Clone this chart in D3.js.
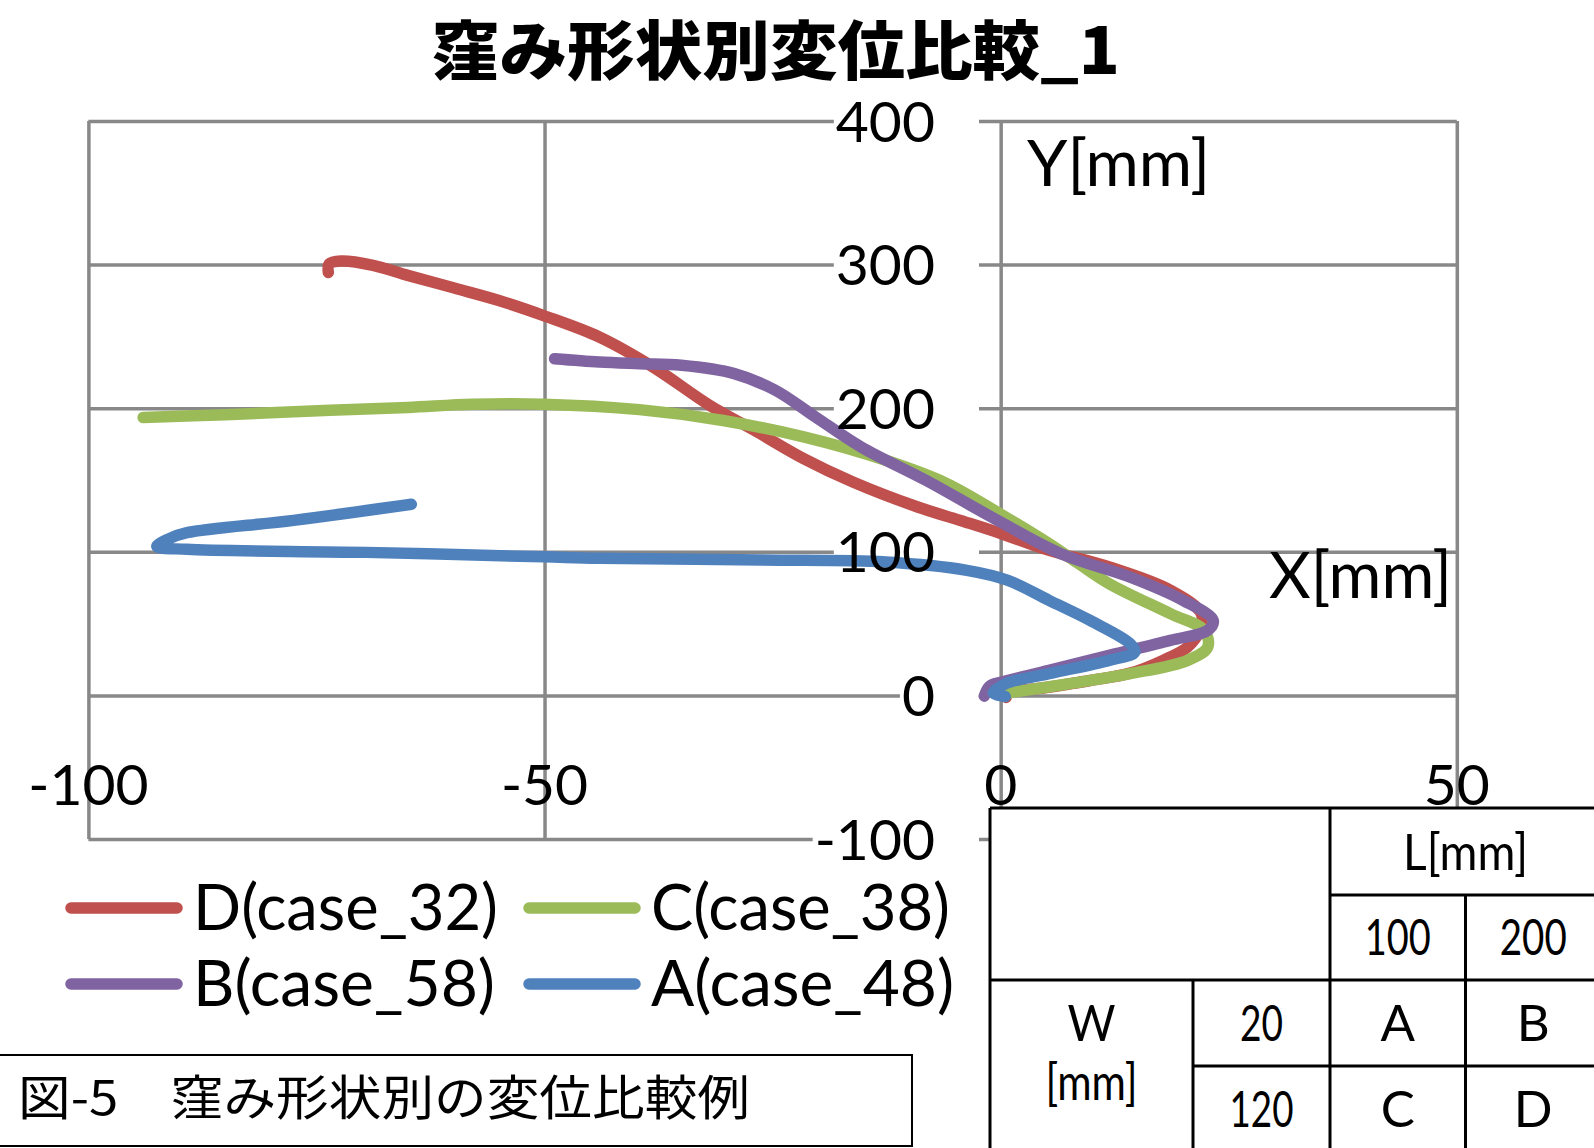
<!DOCTYPE html>
<html><head><meta charset="utf-8">
<script src="https://cdn.jsdelivr.net/npm/d3@7"></script>
<style>html,body{margin:0;padding:0;background:#fff}svg{display:block}</style>
</head><body>
<script>
// ---------- data ----------
const chartTitle = "窪み形状別変位比較_1";
const xTicks = [-100, -50, 0, 50];
const yTicks = [-100, 0, 100, 200, 300, 400];
const xAxisTitle = "X[mm]";
const yAxisTitle = "Y[mm]";
const seriesNames = ["D(case_32)", "C(case_38)", "B(case_58)", "A(case_48)"];
const seriesColors = ["#C0504D", "#9BBB59", "#8064A2", "#4F81BD"];

const seriesD = [[0.6,-1.4],[0.8,1.5],[5,5.5],[9.8,10.4],[14.2,15.5],[17.8,24.4],[20.5,33.7],[21.8,45],[22,56.9],[18.6,73.2],[11.9,89.4],[5.3,101],[0.1,112.6],[-4.5,122],[-9.1,131.2],[-16.2,148.6],[-21.6,164.9],[-27,184.6],[-31.9,202],[-38.1,228.7],[-44,249.6],[-50.1,264.5],[-55,275],[-59.8,283.5],[-65,292.5],[-68.8,299.5],[-72.3,302.5],[-73.6,300.5],[-73.7,294.5]];
const seriesC = [[0.5,1.5],[7.5,8.1],[14.2,15.1],[20.5,24.4],[22.7,33.7],[22.3,45.3],[18.6,56.9],[11.9,77.8],[8.5,92],[5.3,105.7],[-0.1,126.6],[-5.9,147.5],[-12.6,163.7],[-21.6,180],[-30.6,191.6],[-39.6,199],[-50.1,202.8],[-57.9,202.7],[-65,200.5],[-73.5,198.5],[-85,195.5],[-94,193.5]];
const seriesB = [[-1.8,-0.5],[-1.2,6.5],[0.1,9.3],[5.3,17.4],[11.9,27.9],[18.6,38.3],[22.7,45.3],[23.3,52.2],[20,66.2],[14.2,82.4],[6.6,98.7],[-1,124.2],[-8.2,149.8],[-15.3,173],[-20.3,193.9],[-24.7,212.5],[-29.2,224.1],[-35,229.9],[-39.6,231],[-44,232.2],[-48.9,234.5]];
const seriesA = [[0.5,-0.8],[-0.8,1.5],[0.5,8],[5.3,15.1],[11.9,24.4],[14.7,30.2],[14.2,36],[9.8,52.2],[5.3,66.2],[0.8,80.1],[-3.7,87.1],[-12.6,92.9],[-26.1,94.3],[-44,95.5],[-50.1,96.5],[-69.6,99.6],[-89.2,101.7],[-92.5,103.8],[-91.2,109],[-89.2,113.3],[-77.5,121.9],[-64.6,133.1]];

const captionText = "図-5　窪み形状別の変位比較例";
const tableHeaderL = "L[mm]";
const tableLValues = ["100", "200"];
const tableWLabel = ["W", "[mm]"];
const tableWValues = ["20", "120"];
const tableCells = [["A", "B"], ["C", "D"]];

// ---------- layout ----------
const W = 1594, H = 1148;
const svg = d3.select("body").append("svg").attr("width", W).attr("height", H)
  .style("font-family", "Lato, 'Noto Sans', sans-serif");

const x = d3.scaleLinear().domain([-100, 50]).range([88.4, 1456.8]);
const y = d3.scaleLinear().domain([-100, 400]).range([839, 121]);
const gridColor = "#888888";

// title
svg.append("text").attr("x", 776).attr("y", 74).attr("text-anchor", "middle")
  .attr("font-family", "'Noto Sans CJK JP', sans-serif").attr("font-weight", 900)
  .attr("font-size", 64).attr("textLength", 688).attr("lengthAdjust", "spacingAndGlyphs")
  .text(chartTitle);

// gridlines via d3 axes
const gx = svg.append("g").attr("transform", `translate(0,${y(-100)})`)
  .call(d3.axisBottom(x).tickValues(xTicks).tickSize(-(y(-100) - y(400))).tickFormat(""));
const gy = svg.append("g").attr("transform", `translate(${x(-100)},0)`)
  .call(d3.axisLeft(y).tickValues(yTicks).tickSize(-(x(50) - x(-100))).tickFormat(""));
[gx, gy].forEach(g => {
  g.select(".domain").remove();
  g.selectAll(".tick line").attr("stroke", gridColor).attr("stroke-width", 3.5);
});

// white boxes behind y labels (break the gridlines)
const yBoxes = svg.append("g");

// series
const line = d3.line().x(d => x(d[0])).y(d => y(d[1])).curve(d3.curveCatmullRom.alpha(0.5));
const allSeries = [seriesD, seriesC, seriesB, seriesA];
allSeries.forEach((s, i) => {
  svg.append("path").datum(s).attr("d", line).attr("fill", "none")
    .attr("stroke", seriesColors[i]).attr("stroke-width", 11.5)
    .attr("stroke-linecap", "round").attr("stroke-linejoin", "round");
});

// y labels
yTicks.forEach(v => {
  const t = svg.append("text").attr("x", 935).attr("y", y(v) + 20.5)
    .attr("text-anchor", "end").attr("font-size", 57).text(v);
  const bb = t.node().getBBox();
  yBoxes.append("rect").attr("x", bb.x - 2).attr("y", y(v) - 4)
    .attr("width", 979 - bb.x + 2).attr("height", 8).attr("fill", "#fff");
});

// x labels
xTicks.forEach(v => {
  svg.append("text").attr("x", x(v)).attr("y", 804.5).attr("text-anchor", "middle")
    .attr("font-size", 57).text(v);
});

// axis titles
svg.append("text").attr("x", 1269).attr("y", 598).attr("font-size", 64)
  .attr("textLength", 183).attr("lengthAdjust", "spacingAndGlyphs").text(xAxisTitle);
svg.append("text").attr("x", 1027).attr("y", 186).attr("font-size", 64)
  .attr("textLength", 183).attr("lengthAdjust", "spacingAndGlyphs").text(yAxisTitle);

// legend
const legPos = [[71, 908, 193, 305], [529, 908, 651, 299], [71, 984, 193, 302], [529, 984, 651, 303]];
seriesNames.forEach((n, i) => {
  const p = legPos[i];
  svg.append("line").attr("x1", p[0]).attr("x2", p[0] + 106).attr("y1", p[1]).attr("y2", p[1])
    .attr("stroke", seriesColors[i]).attr("stroke-width", 11.5).attr("stroke-linecap", "round");
  svg.append("text").attr("x", p[2]).attr("y", p[1] + 22).attr("font-size", 64)
    .attr("textLength", p[3]).attr("lengthAdjust", "spacingAndGlyphs").text(n);
});

// caption box
svg.append("rect").attr("x", -3).attr("y", 1055).attr("width", 915).attr("height", 91)
  .attr("fill", "#fff").attr("stroke", "#000").attr("stroke-width", 2);
svg.append("text").attr("x", 18).attr("y", 1115)
  .attr("font-family", "'Noto Sans CJK JP', sans-serif").attr("font-size", 48)
  .attr("textLength", 732).attr("lengthAdjust", "spacingAndGlyphs").text(captionText);

// table
const tb = svg.append("g");
const cx = [990, 1193, 1330, 1465.5, 1601];
const ry = [808, 895, 980, 1066, 1152];
tb.append("rect").attr("x", cx[0]).attr("y", ry[0]).attr("width", W - cx[0] + 10).attr("height", H - ry[0] + 10)
  .attr("fill", "#fff");
const tl = (x1, y1, x2, y2) => tb.append("line").attr("x1", x1).attr("y1", y1).attr("x2", x2).attr("y2", y2)
  .attr("stroke", "#000").attr("stroke-width", 3);
tl(cx[0], ry[0], W + 5, ry[0]);
tl(cx[2], ry[1], W + 5, ry[1]);
tl(cx[0], ry[2], W + 5, ry[2]);
tl(cx[1], ry[3], W + 5, ry[3]);
tl(cx[0], ry[0], cx[0], H + 5);
tl(cx[2], ry[0], cx[2], H + 5);
tl(cx[1], ry[2], cx[1], H + 5);
tl(cx[3], ry[1], cx[3], H + 5);
const tt = (tx, ty, s, w) => {
  const t = tb.append("text").attr("x", tx).attr("y", ty).attr("text-anchor", "middle")
    .attr("font-size", 51).text(s);
  if (w) t.attr("textLength", w).attr("lengthAdjust", "spacingAndGlyphs");
};
tt((cx[2] + cx[4]) / 2, 870, tableHeaderL, 125);
tt((cx[2] + cx[3]) / 2, 955, tableLValues[0], 66);
tt((cx[3] + cx[4]) / 2, 955, tableLValues[1], 67);
tt((cx[0] + cx[1]) / 2, 1041, tableWLabel[0], 48);
tt((cx[0] + cx[1]) / 2, 1100, tableWLabel[1], 92);
tt((cx[1] + cx[2]) / 2, 1041, tableWValues[0], 43);
tt((cx[1] + cx[2]) / 2, 1127, tableWValues[1], 64);
tableCells.forEach((row, r) => row.forEach((c, k) => {
  tt((cx[2 + k] + cx[3 + k]) / 2, r === 0 ? 1041 : 1127, c);
}));
</script>
</body></html>
